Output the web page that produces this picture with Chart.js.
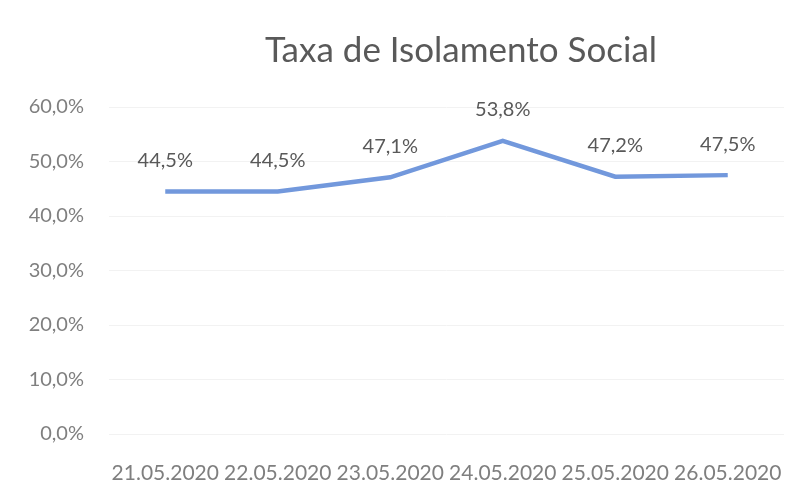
<!DOCTYPE html>
<html>
<head>
<meta charset="utf-8">
<script src="https://cdn.jsdelivr.net/npm/chart.js@4"></script>
<style>
  html, body { margin: 0; padding: 0; background: #ffffff; }
  #wrap { width: 804px; height: 488px; }
</style>
</head>
<body>
<div id="wrap"><canvas id="chart" width="804" height="488"></canvas></div>
<script>
'use strict';

let labels = ['21.05.2020', '22.05.2020', '23.05.2020', '24.05.2020', '25.05.2020', '26.05.2020'];
let isolamento = [44.5, 44.5, 47.1, 53.8, 47.2, 47.5];
let yTicks = [0, 10, 20, 30, 40, 50, 60];
let titleText = 'Taxa de Isolamento Social';

function fmt(v) {
  return v.toFixed(1).replace('.', ',') + '%';
}

// value above each point + the title (sits a bit right of centre in the original)
let valueLabels = {
  id: 'valueLabels',
  afterDatasetsDraw(chart) {
    let ctx = chart.ctx;
    let meta = chart.getDatasetMeta(0);
    ctx.save();
    ctx.font = '20px Lato';
    ctx.fillStyle = '#595959';
    ctx.textAlign = 'center';
    ctx.textBaseline = 'middle';
    meta.data.forEach(function (pt, i) {
      ctx.fillText(fmt(isolamento[i]), pt.x, pt.y - 31);
    });
    ctx.font = '35px Lato';
    ctx.fillText(titleText, 461, 51);
    ctx.restore();
  }
};

let ctx = document.getElementById('chart').getContext('2d');
let myChart = new Chart(ctx, {
  type: 'line',
  data: {
    labels: labels,
    datasets: [{
      label: titleText,
      data: isolamento,
      borderColor: '#7298dc',
      borderWidth: 4.5,
      pointRadius: 0,
      tension: 0,
      fill: false
    }]
  },
  options: {
    responsive: false,
    animation: false,
    layout: { padding: { left: 0, right: 20, top: 107, bottom: 0 } },
    plugins: {
      legend: { display: false },
      tooltip: { enabled: false },
      title: { display: false }
    },
    scales: {
      x: {
        offset: true,
        grid: { display: false },
        border: { display: false },
        ticks: {
          color: '#7f7f7f',
          font: { family: 'Lato', size: 21 },
          padding: 19,
          maxRotation: 0,
          autoSkip: false
        },
        afterFit: function (s) { s.height = 54; }
      },
      y: {
        min: 0,
        max: 60,
        grid: { color: '#f2f2f2', drawTicks: false, lineWidth: 1 },
        border: { display: false },
        afterBuildTicks: function (s) {
          s.ticks = yTicks.map(function (v) { return { value: v }; });
        },
        ticks: {
          color: '#7f7f7f',
          font: { family: 'Lato', size: 20 },
          padding: 25,
          callback: function (v) { return fmt(v); }
        },
        afterFit: function (s) { s.width = 109; }
      }
    }
  },
  plugins: [valueLabels]
});
</script>
</body>
</html>
